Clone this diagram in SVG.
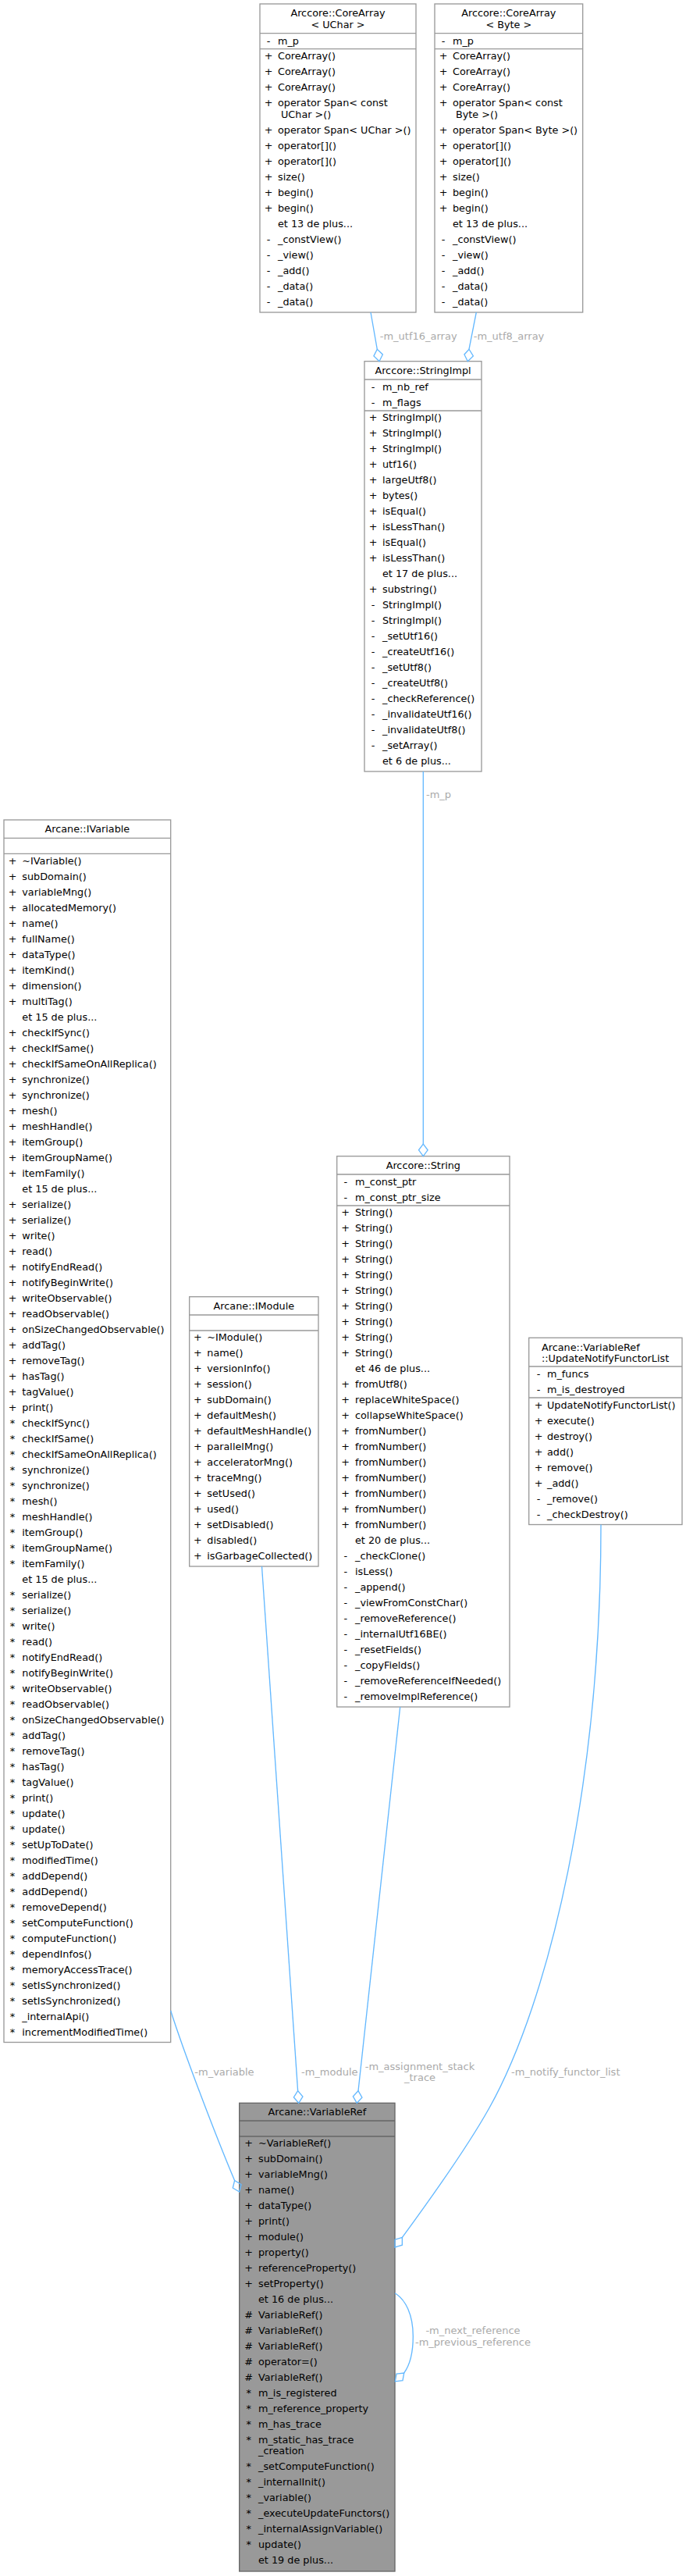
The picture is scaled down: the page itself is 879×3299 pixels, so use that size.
<svg xmlns="http://www.w3.org/2000/svg" width="879" height="3299" viewBox="0 0 879 3299">
<style>
text{font-family:"DejaVu Sans","Liberation Sans",sans-serif;font-size:12.8px;fill:#000}
.c{text-anchor:middle}
.box{fill:#fff;stroke:#999;stroke-width:1.33}
.sep{stroke:#999;stroke-width:1.33}
.hl .box{fill:#999;stroke:#666}
.hl .sep{stroke:#666}
.e path{fill:none;stroke:#63b8ff;stroke-width:1.33}
.e polygon{fill:none;stroke:#63b8ff;stroke-width:1.33}
.e text{font-size:13px;fill:#aaa}
</style>
<rect width="879" height="3299" fill="#fff"/>

<g id="node-corearray-uchar">
<rect class="box" x="333" y="5" width="200" height="395"/>
<line class="sep" x1="333" y1="42.7" x2="533" y2="42.7"/>
<line class="sep" x1="333" y1="62.7" x2="533" y2="62.7"/>
<text class="c" x="433" y="21.2">Arccore::CoreArray</text>
<text class="c" x="433" y="36.2">&lt; UChar &gt;</text>
<text class="c" x="344" y="56.5">-</text><text x="356" y="56.5">m_p</text>
<text class="c" x="344" y="76.2">+</text><text x="356" y="76.2">CoreArray()</text>
<text class="c" x="344" y="96.2">+</text><text x="356" y="96.2">CoreArray()</text>
<text class="c" x="344" y="116.2">+</text><text x="356" y="116.2">CoreArray()</text>
<text class="c" x="344" y="136.2">+</text><text x="356" y="136.2">operator Span&lt; const</text>
<text x="360" y="150.5">UChar &gt;()</text>
<text class="c" x="344" y="170.5">+</text><text x="356" y="170.5">operator Span&lt; UChar &gt;()</text>
<text class="c" x="344" y="190.5">+</text><text x="356" y="190.5">operator[]()</text>
<text class="c" x="344" y="210.5">+</text><text x="356" y="210.5">operator[]()</text>
<text class="c" x="344" y="230.5">+</text><text x="356" y="230.5">size()</text>
<text class="c" x="344" y="250.5">+</text><text x="356" y="250.5">begin()</text>
<text class="c" x="344" y="270.5">+</text><text x="356" y="270.5">begin()</text>
<text x="356" y="290.5">et 13 de plus...</text>
<text class="c" x="344" y="310.5">-</text><text x="356" y="310.5">_constView()</text>
<text class="c" x="344" y="330.5">-</text><text x="356" y="330.5">_view()</text>
<text class="c" x="344" y="350.5">-</text><text x="356" y="350.5">_add()</text>
<text class="c" x="344" y="370.5">-</text><text x="356" y="370.5">_data()</text>
<text class="c" x="344" y="390.5">-</text><text x="356" y="390.5">_data()</text>
</g>

<g id="node-corearray-byte">
<rect class="box" x="557" y="5" width="189.7" height="395"/>
<line class="sep" x1="557" y1="42.7" x2="746.7" y2="42.7"/>
<line class="sep" x1="557" y1="62.7" x2="746.7" y2="62.7"/>
<text class="c" x="651.85" y="21.2">Arccore::CoreArray</text>
<text class="c" x="651.85" y="36.2">&lt; Byte &gt;</text>
<text class="c" x="568" y="56.5">-</text><text x="580" y="56.5">m_p</text>
<text class="c" x="568" y="76.2">+</text><text x="580" y="76.2">CoreArray()</text>
<text class="c" x="568" y="96.2">+</text><text x="580" y="96.2">CoreArray()</text>
<text class="c" x="568" y="116.2">+</text><text x="580" y="116.2">CoreArray()</text>
<text class="c" x="568" y="136.2">+</text><text x="580" y="136.2">operator Span&lt; const</text>
<text x="584" y="150.5">Byte &gt;()</text>
<text class="c" x="568" y="170.5">+</text><text x="580" y="170.5">operator Span&lt; Byte &gt;()</text>
<text class="c" x="568" y="190.5">+</text><text x="580" y="190.5">operator[]()</text>
<text class="c" x="568" y="210.5">+</text><text x="580" y="210.5">operator[]()</text>
<text class="c" x="568" y="230.5">+</text><text x="580" y="230.5">size()</text>
<text class="c" x="568" y="250.5">+</text><text x="580" y="250.5">begin()</text>
<text class="c" x="568" y="270.5">+</text><text x="580" y="270.5">begin()</text>
<text x="580" y="290.5">et 13 de plus...</text>
<text class="c" x="568" y="310.5">-</text><text x="580" y="310.5">_constView()</text>
<text class="c" x="568" y="330.5">-</text><text x="580" y="330.5">_view()</text>
<text class="c" x="568" y="350.5">-</text><text x="580" y="350.5">_add()</text>
<text class="c" x="568" y="370.5">-</text><text x="580" y="370.5">_data()</text>
<text class="c" x="568" y="390.5">-</text><text x="580" y="390.5">_data()</text>
</g>

<g id="node-stringimpl">
<rect class="box" x="467" y="462.7" width="150" height="525.3"/>
<line class="sep" x1="467" y1="486" x2="617" y2="486"/>
<line class="sep" x1="467" y1="526" x2="617" y2="526"/>
<text class="c" x="542" y="478.9">Arccore::StringImpl</text>
<text class="c" x="478" y="499.8">-</text><text x="490" y="499.8">m_nb_ref</text>
<text class="c" x="478" y="519.8">-</text><text x="490" y="519.8">m_flags</text>
<text class="c" x="478" y="539.2">+</text><text x="490" y="539.2">StringImpl()</text>
<text class="c" x="478" y="559.2">+</text><text x="490" y="559.2">StringImpl()</text>
<text class="c" x="478" y="579.2">+</text><text x="490" y="579.2">StringImpl()</text>
<text class="c" x="478" y="599.2">+</text><text x="490" y="599.2">utf16()</text>
<text class="c" x="478" y="619.2">+</text><text x="490" y="619.2">largeUtf8()</text>
<text class="c" x="478" y="639.2">+</text><text x="490" y="639.2">bytes()</text>
<text class="c" x="478" y="659.2">+</text><text x="490" y="659.2">isEqual()</text>
<text class="c" x="478" y="679.2">+</text><text x="490" y="679.2">isLessThan()</text>
<text class="c" x="478" y="699.2">+</text><text x="490" y="699.2">isEqual()</text>
<text class="c" x="478" y="719.2">+</text><text x="490" y="719.2">isLessThan()</text>
<text x="490" y="739.2">et 17 de plus...</text>
<text class="c" x="478" y="759.2">+</text><text x="490" y="759.2">substring()</text>
<text class="c" x="478" y="779.2">-</text><text x="490" y="779.2">StringImpl()</text>
<text class="c" x="478" y="799.2">-</text><text x="490" y="799.2">StringImpl()</text>
<text class="c" x="478" y="819.2">-</text><text x="490" y="819.2">_setUtf16()</text>
<text class="c" x="478" y="839.2">-</text><text x="490" y="839.2">_createUtf16()</text>
<text class="c" x="478" y="859.2">-</text><text x="490" y="859.2">_setUtf8()</text>
<text class="c" x="478" y="879.2">-</text><text x="490" y="879.2">_createUtf8()</text>
<text class="c" x="478" y="899.2">-</text><text x="490" y="899.2">_checkReference()</text>
<text class="c" x="478" y="919.2">-</text><text x="490" y="919.2">_invalidateUtf16()</text>
<text class="c" x="478" y="939.2">-</text><text x="490" y="939.2">_invalidateUtf8()</text>
<text class="c" x="478" y="959.2">-</text><text x="490" y="959.2">_setArray()</text>
<text x="490" y="979.2">et 6 de plus...</text>
</g>

<g id="node-ivariable">
<rect class="box" x="5" y="1050" width="213.7" height="1565.5"/>
<line class="sep" x1="5" y1="1073.3" x2="218.7" y2="1073.3"/>
<line class="sep" x1="5" y1="1093.3" x2="218.7" y2="1093.3"/>
<text class="c" x="111.85" y="1066.2">Arcane::IVariable</text>
<text class="c" x="16" y="1106.5">+</text><text x="28.3" y="1106.5">~IVariable()</text>
<text class="c" x="16" y="1126.5">+</text><text x="28.3" y="1126.5">subDomain()</text>
<text class="c" x="16" y="1146.5">+</text><text x="28.3" y="1146.5">variableMng()</text>
<text class="c" x="16" y="1166.5">+</text><text x="28.3" y="1166.5">allocatedMemory()</text>
<text class="c" x="16" y="1186.5">+</text><text x="28.3" y="1186.5">name()</text>
<text class="c" x="16" y="1206.5">+</text><text x="28.3" y="1206.5">fullName()</text>
<text class="c" x="16" y="1226.5">+</text><text x="28.3" y="1226.5">dataType()</text>
<text class="c" x="16" y="1246.5">+</text><text x="28.3" y="1246.5">itemKind()</text>
<text class="c" x="16" y="1266.5">+</text><text x="28.3" y="1266.5">dimension()</text>
<text class="c" x="16" y="1286.5">+</text><text x="28.3" y="1286.5">multiTag()</text>
<text x="28.3" y="1306.5">et 15 de plus...</text>
<text class="c" x="16" y="1326.5">+</text><text x="28.3" y="1326.5">checkIfSync()</text>
<text class="c" x="16" y="1346.5">+</text><text x="28.3" y="1346.5">checkIfSame()</text>
<text class="c" x="16" y="1366.5">+</text><text x="28.3" y="1366.5">checkIfSameOnAllReplica()</text>
<text class="c" x="16" y="1386.5">+</text><text x="28.3" y="1386.5">synchronize()</text>
<text class="c" x="16" y="1406.5">+</text><text x="28.3" y="1406.5">synchronize()</text>
<text class="c" x="16" y="1426.5">+</text><text x="28.3" y="1426.5">mesh()</text>
<text class="c" x="16" y="1446.5">+</text><text x="28.3" y="1446.5">meshHandle()</text>
<text class="c" x="16" y="1466.5">+</text><text x="28.3" y="1466.5">itemGroup()</text>
<text class="c" x="16" y="1486.5">+</text><text x="28.3" y="1486.5">itemGroupName()</text>
<text class="c" x="16" y="1506.5">+</text><text x="28.3" y="1506.5">itemFamily()</text>
<text x="28.3" y="1526.5">et 15 de plus...</text>
<text class="c" x="16" y="1546.5">+</text><text x="28.3" y="1546.5">serialize()</text>
<text class="c" x="16" y="1566.5">+</text><text x="28.3" y="1566.5">serialize()</text>
<text class="c" x="16" y="1586.5">+</text><text x="28.3" y="1586.5">write()</text>
<text class="c" x="16" y="1606.5">+</text><text x="28.3" y="1606.5">read()</text>
<text class="c" x="16" y="1626.5">+</text><text x="28.3" y="1626.5">notifyEndRead()</text>
<text class="c" x="16" y="1646.5">+</text><text x="28.3" y="1646.5">notifyBeginWrite()</text>
<text class="c" x="16" y="1666.5">+</text><text x="28.3" y="1666.5">writeObservable()</text>
<text class="c" x="16" y="1686.5">+</text><text x="28.3" y="1686.5">readObservable()</text>
<text class="c" x="16" y="1706.5">+</text><text x="28.3" y="1706.5">onSizeChangedObservable()</text>
<text class="c" x="16" y="1726.5">+</text><text x="28.3" y="1726.5">addTag()</text>
<text class="c" x="16" y="1746.5">+</text><text x="28.3" y="1746.5">removeTag()</text>
<text class="c" x="16" y="1766.5">+</text><text x="28.3" y="1766.5">hasTag()</text>
<text class="c" x="16" y="1786.5">+</text><text x="28.3" y="1786.5">tagValue()</text>
<text class="c" x="16" y="1806.5">+</text><text x="28.3" y="1806.5">print()</text>
<text class="c" x="16" y="1826.5">*</text><text x="28.3" y="1826.5">checkIfSync()</text>
<text class="c" x="16" y="1846.5">*</text><text x="28.3" y="1846.5">checkIfSame()</text>
<text class="c" x="16" y="1866.5">*</text><text x="28.3" y="1866.5">checkIfSameOnAllReplica()</text>
<text class="c" x="16" y="1886.5">*</text><text x="28.3" y="1886.5">synchronize()</text>
<text class="c" x="16" y="1906.5">*</text><text x="28.3" y="1906.5">synchronize()</text>
<text class="c" x="16" y="1926.5">*</text><text x="28.3" y="1926.5">mesh()</text>
<text class="c" x="16" y="1946.5">*</text><text x="28.3" y="1946.5">meshHandle()</text>
<text class="c" x="16" y="1966.5">*</text><text x="28.3" y="1966.5">itemGroup()</text>
<text class="c" x="16" y="1986.5">*</text><text x="28.3" y="1986.5">itemGroupName()</text>
<text class="c" x="16" y="2006.5">*</text><text x="28.3" y="2006.5">itemFamily()</text>
<text x="28.3" y="2026.5">et 15 de plus...</text>
<text class="c" x="16" y="2046.5">*</text><text x="28.3" y="2046.5">serialize()</text>
<text class="c" x="16" y="2066.5">*</text><text x="28.3" y="2066.5">serialize()</text>
<text class="c" x="16" y="2086.5">*</text><text x="28.3" y="2086.5">write()</text>
<text class="c" x="16" y="2106.5">*</text><text x="28.3" y="2106.5">read()</text>
<text class="c" x="16" y="2126.5">*</text><text x="28.3" y="2126.5">notifyEndRead()</text>
<text class="c" x="16" y="2146.5">*</text><text x="28.3" y="2146.5">notifyBeginWrite()</text>
<text class="c" x="16" y="2166.5">*</text><text x="28.3" y="2166.5">writeObservable()</text>
<text class="c" x="16" y="2186.5">*</text><text x="28.3" y="2186.5">readObservable()</text>
<text class="c" x="16" y="2206.5">*</text><text x="28.3" y="2206.5">onSizeChangedObservable()</text>
<text class="c" x="16" y="2226.5">*</text><text x="28.3" y="2226.5">addTag()</text>
<text class="c" x="16" y="2246.5">*</text><text x="28.3" y="2246.5">removeTag()</text>
<text class="c" x="16" y="2266.5">*</text><text x="28.3" y="2266.5">hasTag()</text>
<text class="c" x="16" y="2286.5">*</text><text x="28.3" y="2286.5">tagValue()</text>
<text class="c" x="16" y="2306.5">*</text><text x="28.3" y="2306.5">print()</text>
<text class="c" x="16" y="2326.5">*</text><text x="28.3" y="2326.5">update()</text>
<text class="c" x="16" y="2346.5">*</text><text x="28.3" y="2346.5">update()</text>
<text class="c" x="16" y="2366.5">*</text><text x="28.3" y="2366.5">setUpToDate()</text>
<text class="c" x="16" y="2386.5">*</text><text x="28.3" y="2386.5">modifiedTime()</text>
<text class="c" x="16" y="2406.5">*</text><text x="28.3" y="2406.5">addDepend()</text>
<text class="c" x="16" y="2426.5">*</text><text x="28.3" y="2426.5">addDepend()</text>
<text class="c" x="16" y="2446.5">*</text><text x="28.3" y="2446.5">removeDepend()</text>
<text class="c" x="16" y="2466.5">*</text><text x="28.3" y="2466.5">setComputeFunction()</text>
<text class="c" x="16" y="2486.5">*</text><text x="28.3" y="2486.5">computeFunction()</text>
<text class="c" x="16" y="2506.5">*</text><text x="28.3" y="2506.5">dependInfos()</text>
<text class="c" x="16" y="2526.5">*</text><text x="28.3" y="2526.5">memoryAccessTrace()</text>
<text class="c" x="16" y="2546.5">*</text><text x="28.3" y="2546.5">setIsSynchronized()</text>
<text class="c" x="16" y="2566.5">*</text><text x="28.3" y="2566.5">setIsSynchronized()</text>
<text class="c" x="16" y="2586.5">*</text><text x="28.3" y="2586.5">_internalApi()</text>
<text class="c" x="16" y="2606.5">*</text><text x="28.3" y="2606.5">incrementModifiedTime()</text>
</g>

<g id="node-imodule">
<rect class="box" x="242.7" y="1660.7" width="165.3" height="345.3"/>
<line class="sep" x1="242.7" y1="1684" x2="408" y2="1684"/>
<line class="sep" x1="242.7" y1="1704" x2="408" y2="1704"/>
<text class="c" x="325.3" y="1676.8">Arcane::IModule</text>
<text class="c" x="253.3" y="1717.2">+</text><text x="265.3" y="1717.2">~IModule()</text>
<text class="c" x="253.3" y="1737.2">+</text><text x="265.3" y="1737.2">name()</text>
<text class="c" x="253.3" y="1757.2">+</text><text x="265.3" y="1757.2">versionInfo()</text>
<text class="c" x="253.3" y="1777.2">+</text><text x="265.3" y="1777.2">session()</text>
<text class="c" x="253.3" y="1797.2">+</text><text x="265.3" y="1797.2">subDomain()</text>
<text class="c" x="253.3" y="1817.2">+</text><text x="265.3" y="1817.2">defaultMesh()</text>
<text class="c" x="253.3" y="1837.2">+</text><text x="265.3" y="1837.2">defaultMeshHandle()</text>
<text class="c" x="253.3" y="1857.2">+</text><text x="265.3" y="1857.2">parallelMng()</text>
<text class="c" x="253.3" y="1877.2">+</text><text x="265.3" y="1877.2">acceleratorMng()</text>
<text class="c" x="253.3" y="1897.2">+</text><text x="265.3" y="1897.2">traceMng()</text>
<text class="c" x="253.3" y="1917.2">+</text><text x="265.3" y="1917.2">setUsed()</text>
<text class="c" x="253.3" y="1937.2">+</text><text x="265.3" y="1937.2">used()</text>
<text class="c" x="253.3" y="1957.2">+</text><text x="265.3" y="1957.2">setDisabled()</text>
<text class="c" x="253.3" y="1977.2">+</text><text x="265.3" y="1977.2">disabled()</text>
<text class="c" x="253.3" y="1997.2">+</text><text x="265.3" y="1997.2">isGarbageCollected()</text>
</g>

<g id="node-string">
<rect class="box" x="431.7" y="1480.7" width="221.3" height="705.3"/>
<line class="sep" x1="431.7" y1="1504" x2="653" y2="1504"/>
<line class="sep" x1="431.7" y1="1544" x2="653" y2="1544"/>
<text class="c" x="542.3" y="1497.2">Arccore::String</text>
<text class="c" x="442.7" y="1517.8">-</text><text x="455" y="1517.8">m_const_ptr</text>
<text class="c" x="442.7" y="1537.8">-</text><text x="455" y="1537.8">m_const_ptr_size</text>
<text class="c" x="442.7" y="1557.2">+</text><text x="455" y="1557.2">String()</text>
<text class="c" x="442.7" y="1577.2">+</text><text x="455" y="1577.2">String()</text>
<text class="c" x="442.7" y="1597.2">+</text><text x="455" y="1597.2">String()</text>
<text class="c" x="442.7" y="1617.2">+</text><text x="455" y="1617.2">String()</text>
<text class="c" x="442.7" y="1637.2">+</text><text x="455" y="1637.2">String()</text>
<text class="c" x="442.7" y="1657.2">+</text><text x="455" y="1657.2">String()</text>
<text class="c" x="442.7" y="1677.2">+</text><text x="455" y="1677.2">String()</text>
<text class="c" x="442.7" y="1697.2">+</text><text x="455" y="1697.2">String()</text>
<text class="c" x="442.7" y="1717.2">+</text><text x="455" y="1717.2">String()</text>
<text class="c" x="442.7" y="1737.2">+</text><text x="455" y="1737.2">String()</text>
<text x="455" y="1757.2">et 46 de plus...</text>
<text class="c" x="442.7" y="1777.2">+</text><text x="455" y="1777.2">fromUtf8()</text>
<text class="c" x="442.7" y="1797.2">+</text><text x="455" y="1797.2">replaceWhiteSpace()</text>
<text class="c" x="442.7" y="1817.2">+</text><text x="455" y="1817.2">collapseWhiteSpace()</text>
<text class="c" x="442.7" y="1837.2">+</text><text x="455" y="1837.2">fromNumber()</text>
<text class="c" x="442.7" y="1857.2">+</text><text x="455" y="1857.2">fromNumber()</text>
<text class="c" x="442.7" y="1877.2">+</text><text x="455" y="1877.2">fromNumber()</text>
<text class="c" x="442.7" y="1897.2">+</text><text x="455" y="1897.2">fromNumber()</text>
<text class="c" x="442.7" y="1917.2">+</text><text x="455" y="1917.2">fromNumber()</text>
<text class="c" x="442.7" y="1937.2">+</text><text x="455" y="1937.2">fromNumber()</text>
<text class="c" x="442.7" y="1957.2">+</text><text x="455" y="1957.2">fromNumber()</text>
<text x="455" y="1977.2">et 20 de plus...</text>
<text class="c" x="442.7" y="1997.2">-</text><text x="455" y="1997.2">_checkClone()</text>
<text class="c" x="442.7" y="2017.2">-</text><text x="455" y="2017.2">isLess()</text>
<text class="c" x="442.7" y="2037.2">-</text><text x="455" y="2037.2">_append()</text>
<text class="c" x="442.7" y="2057.2">-</text><text x="455" y="2057.2">_viewFromConstChar()</text>
<text class="c" x="442.7" y="2077.2">-</text><text x="455" y="2077.2">_removeReference()</text>
<text class="c" x="442.7" y="2097.2">-</text><text x="455" y="2097.2">_internalUtf16BE()</text>
<text class="c" x="442.7" y="2117.2">-</text><text x="455" y="2117.2">_resetFields()</text>
<text class="c" x="442.7" y="2137.2">-</text><text x="455" y="2137.2">_copyFields()</text>
<text class="c" x="442.7" y="2157.2">-</text><text x="455" y="2157.2">_removeReferenceIfNeeded()</text>
<text class="c" x="442.7" y="2177.2">-</text><text x="455" y="2177.2">_removeImplReference()</text>
</g>

<g id="node-updatenotifyfunctorlist">
<rect class="box" x="677.7" y="1713.3" width="196.3" height="239.2"/>
<line class="sep" x1="677.7" y1="1750" x2="874" y2="1750"/>
<line class="sep" x1="677.7" y1="1790" x2="874" y2="1790"/>
<text x="694" y="1729.5">Arcane::VariableRef</text>
<text x="694" y="1743.8">::UpdateNotifyFunctorList</text>
<text class="c" x="690" y="1763.8">-</text><text x="701" y="1763.8">m_funcs</text>
<text class="c" x="690" y="1783.8">-</text><text x="701" y="1783.8">m_is_destroyed</text>
<text class="c" x="690" y="1804">+</text><text x="701" y="1804">UpdateNotifyFunctorList()</text>
<text class="c" x="690" y="1824">+</text><text x="701" y="1824">execute()</text>
<text class="c" x="690" y="1844">+</text><text x="701" y="1844">destroy()</text>
<text class="c" x="690" y="1864">+</text><text x="701" y="1864">add()</text>
<text class="c" x="690" y="1884">+</text><text x="701" y="1884">remove()</text>
<text class="c" x="690" y="1904">+</text><text x="701" y="1904">_add()</text>
<text class="c" x="690" y="1924">-</text><text x="701" y="1924">_remove()</text>
<text class="c" x="690" y="1944">-</text><text x="701" y="1944">_checkDestroy()</text>
</g>

<g id="node-variableref" class="hl">
<rect class="box" x="306.7" y="2693.3" width="199.3" height="599.7"/>
<line class="sep" x1="306.7" y1="2716" x2="506" y2="2716"/>
<line class="sep" x1="306.7" y1="2736" x2="506" y2="2736"/>
<text class="c" x="406.35" y="2708.8">Arcane::VariableRef</text>
<text class="c" x="318.7" y="2748.8">+</text><text x="331" y="2748.8">~VariableRef()</text>
<text class="c" x="318.7" y="2768.8">+</text><text x="331" y="2768.8">subDomain()</text>
<text class="c" x="318.7" y="2788.8">+</text><text x="331" y="2788.8">variableMng()</text>
<text class="c" x="318.7" y="2808.8">+</text><text x="331" y="2808.8">name()</text>
<text class="c" x="318.7" y="2828.8">+</text><text x="331" y="2828.8">dataType()</text>
<text class="c" x="318.7" y="2848.8">+</text><text x="331" y="2848.8">print()</text>
<text class="c" x="318.7" y="2868.8">+</text><text x="331" y="2868.8">module()</text>
<text class="c" x="318.7" y="2888.8">+</text><text x="331" y="2888.8">property()</text>
<text class="c" x="318.7" y="2908.8">+</text><text x="331" y="2908.8">referenceProperty()</text>
<text class="c" x="318.7" y="2928.8">+</text><text x="331" y="2928.8">setProperty()</text>
<text x="331" y="2948.8">et 16 de plus...</text>
<text class="c" x="318.7" y="2968.8">#</text><text x="331" y="2968.8">VariableRef()</text>
<text class="c" x="318.7" y="2988.8">#</text><text x="331" y="2988.8">VariableRef()</text>
<text class="c" x="318.7" y="3008.8">#</text><text x="331" y="3008.8">VariableRef()</text>
<text class="c" x="318.7" y="3028.8">#</text><text x="331" y="3028.8">operator=()</text>
<text class="c" x="318.7" y="3048.8">#</text><text x="331" y="3048.8">VariableRef()</text>
<text class="c" x="318.7" y="3068.8">*</text><text x="331" y="3068.8">m_is_registered</text>
<text class="c" x="318.7" y="3088.8">*</text><text x="331" y="3088.8">m_reference_property</text>
<text class="c" x="318.7" y="3108.8">*</text><text x="331" y="3108.8">m_has_trace</text>
<text class="c" x="318.7" y="3128.8">*</text><text x="331" y="3128.8">m_static_has_trace</text>
<text x="331" y="3143.1">_creation</text>
<text class="c" x="318.7" y="3163.1">*</text><text x="331" y="3163.1">_setComputeFunction()</text>
<text class="c" x="318.7" y="3183.1">*</text><text x="331" y="3183.1">_internalInit()</text>
<text class="c" x="318.7" y="3203.1">*</text><text x="331" y="3203.1">_variable()</text>
<text class="c" x="318.7" y="3223.1">*</text><text x="331" y="3223.1">_executeUpdateFunctors()</text>
<text class="c" x="318.7" y="3243.1">*</text><text x="331" y="3243.1">_internalAssignVariable()</text>
<text class="c" x="318.7" y="3263.1">*</text><text x="331" y="3263.1">update()</text>
<text x="331" y="3283.1">et 19 de plus...</text>
</g>

<g id="connectors" class="e">
<path d="M475,400 L483.29,447.24"/>
<polygon points="486,462.7 478.93,455.97 483.29,447.24 490.36,453.97"/>
<text x="486.7" y="435.2">-m_utf16_array</text>
<path d="M610.3,400 L601.01,447.24"/>
<polygon points="599.3,462.7 606.37,455.97 601.01,447.24 594.94,453.97"/>
<text x="606.7" y="435.2">-m_utf8_array</text>
<path d="M542.3,988 L542.3,1465"/>
<polygon points="542.3,1480.7 548.1,1472.85 542.3,1465 536.5,1472.85"/>
<text x="546" y="1022">-m_p</text>
<path d="M218.7,2575 C236.9,2632.2 277.4,2737.2 300.62,2792.53"/>
<polygon points="306.7,2807 309,2797.5 300.62,2792.53 298.3,2802"/>
<text x="249.3" y="2657.8">-m_variable</text>
<path d="M335.5,2006 L381.62,2677.64"/>
<polygon points="382.7,2693.3 387.95,2685.07 381.62,2677.64 376.37,2685.87"/>
<text x="386" y="2657.8">-m_module</text>
<path d="M512.7,2186 L459,2677.7"/>
<polygon points="457.3,2693.3 463.92,2686.13 459,2677.7 452.38,2684.87"/>
<text class="c" x="538" y="2650.5">-m_assignment_stack</text>
<text class="c" x="538" y="2665.2">_trace</text>
<path d="M770,1952.5 C770,2280 705,2560 626.7,2700 C597.4,2752.4 545,2825 515.4,2865.4"/>
<polygon points="506,2878 515.34,2875.18 515.4,2865.4 506.06,2868.22"/>
<text x="655" y="2657.8">-m_notify_functor_list</text>
<path d="M506,2936.7 C520,2945 529.3,2965 529.3,2992 C529.3,3012 525,3029 517.7,3039"/>
<polygon points="506.3,3049.8 515.99,3048.63 517.7,3039 508.03,3040.19"/>
<text class="c" x="606" y="2988.8">-m_next_reference</text>
<text class="c" x="606" y="3003.8">-m_previous_reference</text>
</g>
</svg>
